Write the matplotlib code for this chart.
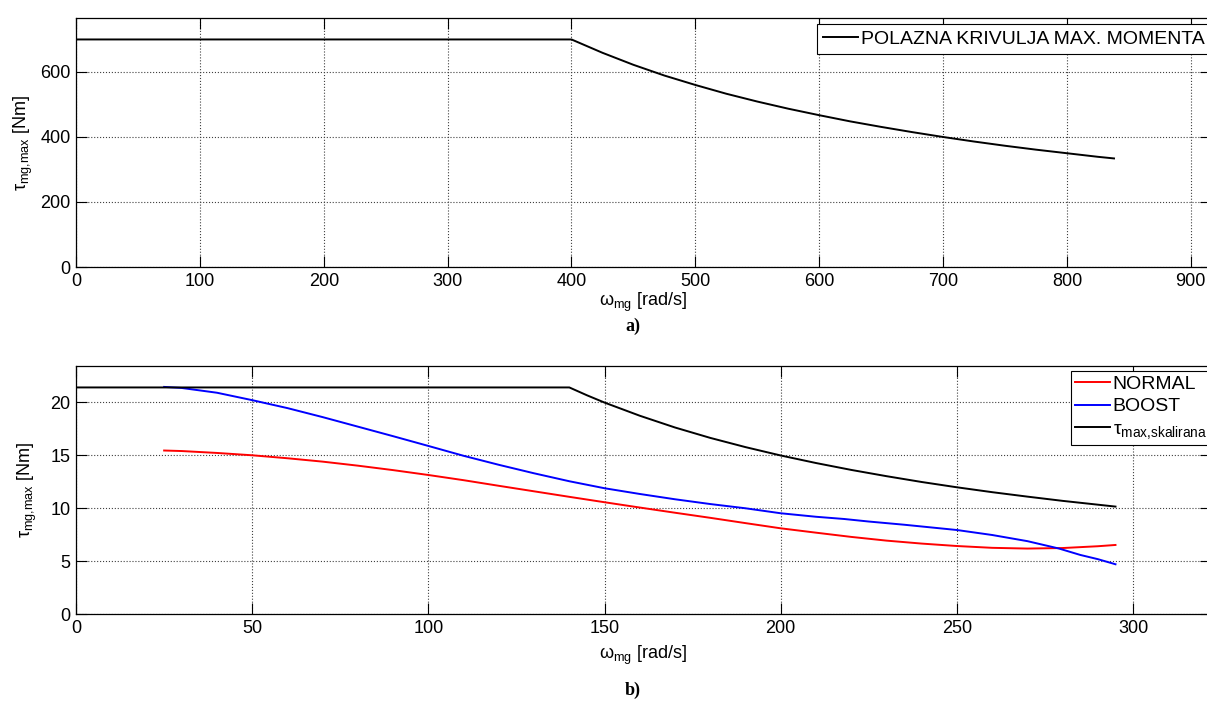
import matplotlib
matplotlib.use('Agg')

import matplotlib.pyplot as plt

plt.rcParams['font.family'] = ['Liberation Sans', 'DejaVu Sans']
plt.rcParams['mathtext.fontset'] = 'custom'
plt.rcParams['mathtext.rm'] = 'Liberation Sans'
plt.rcParams['mathtext.it'] = 'Liberation Sans:italic'

# a) starting max torque curve
w_a = [0, 100, 200, 300, 400, 425, 450, 475, 500, 525, 550, 575, 600, 625, 650, 675,
	700, 725, 750, 775, 800, 825, 838]
tau_a = [700, 700, 700, 700, 700, 659, 622, 589, 560, 533, 509, 487, 467, 448, 431, 415,
	400, 386, 373, 361, 350, 339, 334]

# b) scaled curve
w_b = [0, 50, 100, 140, 145, 150, 160, 170, 180, 190, 200, 210, 220, 230, 240, 250,
	260, 270, 280, 295]
tau_b = [21.4, 21.4, 21.4, 21.4, 20.66, 19.97, 18.73, 17.62, 16.64, 15.77, 14.98, 14.27,
	13.62, 13.03, 12.48, 11.98, 11.52, 11.10, 10.70, 10.16]

# b) NORMAL
w_n = [25, 30, 40, 50, 60, 70, 80, 90, 100, 110, 120, 130, 140, 150, 160, 170, 180, 190,
	200, 210, 220, 230, 240, 250, 260, 270, 280, 290, 295]
normal = [15.45, 15.4, 15.22, 15.0, 14.72, 14.4, 14.02, 13.6, 13.14, 12.65, 12.12, 11.6,
	11.08, 10.57, 10.07, 9.58, 9.1, 8.6, 8.11, 7.7, 7.3, 6.95, 6.67, 6.44, 6.27, 6.2, 6.25,
	6.42, 6.54]

# b) BOOST
w_bo = [25, 30, 40, 50, 60, 70, 80, 90, 100, 110, 120, 130, 140, 150, 160, 170, 180, 190,
	200, 210, 218, 225, 235, 250, 260, 270, 279, 285, 290, 295]
boost = [21.45, 21.35, 20.9, 20.2, 19.45, 18.6, 17.7, 16.8, 15.88, 14.95, 14.1, 13.3,
	12.55, 11.89, 11.35, 10.85, 10.4, 10.0, 9.53, 9.2, 8.99, 8.75, 8.45, 7.95, 7.48, 6.9,
	6.2, 5.6, 5.2, 4.72]

fig = plt.figure(figsize=(12.07, 7.06), dpi=100)
ax1 = fig.add_axes([0.063, 0.6218, 0.94, 0.3527])
ax2 = fig.add_axes([0.063, 0.1299, 0.94, 0.3521])

for ax in (ax1, ax2):
	ax.grid(True, linestyle=':', color='0.25', linewidth=0.8)
	ax.tick_params(direction='in', top=True, right=True, length=8, labelsize=13, pad=4)
	for s in ax.spines.values():
		s.set_linewidth(0.9)

ax1.plot(w_a, tau_a, color='black', linewidth=1.4, label='POLAZNA KRIVULJA MAX. MOMENTA')
ax1.set_xlim(0, 916)
ax1.set_ylim(0, 766)
ax1.set_xticks(range(0, 901, 100))
ax1.set_yticks([0, 200, 400, 600])
ax1.set_xlabel('ω$_{\\rm mg}$ [rad/s]', fontsize=13, labelpad=1)
ax1.set_ylabel('τ$_{\\rm mg{,}max}$ [Nm]', fontsize=13, labelpad=4)
leg1 = ax1.legend(loc='upper right', bbox_to_anchor=(1.0, 0.975), fontsize=14, frameon=True,
	fancybox=False, edgecolor='black', framealpha=1, handlelength=1.8, handletextpad=0.15,
	borderpad=0.3, borderaxespad=0)
leg1.get_frame().set_linewidth(0.8)

ax2.plot(w_n, normal, color='red', linewidth=1.4, label='NORMAL')
ax2.plot(w_bo, boost, color='blue', linewidth=1.4, label='BOOST')
ax2.plot(w_b, tau_b, color='black', linewidth=1.4, label='τ$_{\\rm max{,}skalirana}$')
ax2.set_xlim(0, 322)
ax2.set_ylim(0, 23.45)
ax2.set_xticks(range(0, 301, 50))
ax2.set_yticks([0, 5, 10, 15, 20])
ax2.set_xlabel('ω$_{\\rm mg}$ [rad/s]', fontsize=13, labelpad=5)
ax2.set_ylabel('τ$_{\\rm mg{,}max}$ [Nm]', fontsize=13, labelpad=8)
leg2 = ax2.legend(loc='upper right', bbox_to_anchor=(1.0, 0.977), fontsize=14, frameon=True,
	fancybox=False, edgecolor='black', framealpha=1, handlelength=1.8, handletextpad=0.15,
	borderpad=0.2, borderaxespad=0, labelspacing=0.25)
leg2.get_frame().set_linewidth(0.8)

fig.text(0.524, 1 - 326 / 706, 'a)', ha='center', va='center', family='Liberation Serif',
	fontweight='bold', fontsize=13)
fig.text(0.524, 1 - 690 / 706, 'b)', ha='center', va='center', family='Liberation Serif',
	fontweight='bold', fontsize=13)

fig.savefig('out.png', dpi=100)
